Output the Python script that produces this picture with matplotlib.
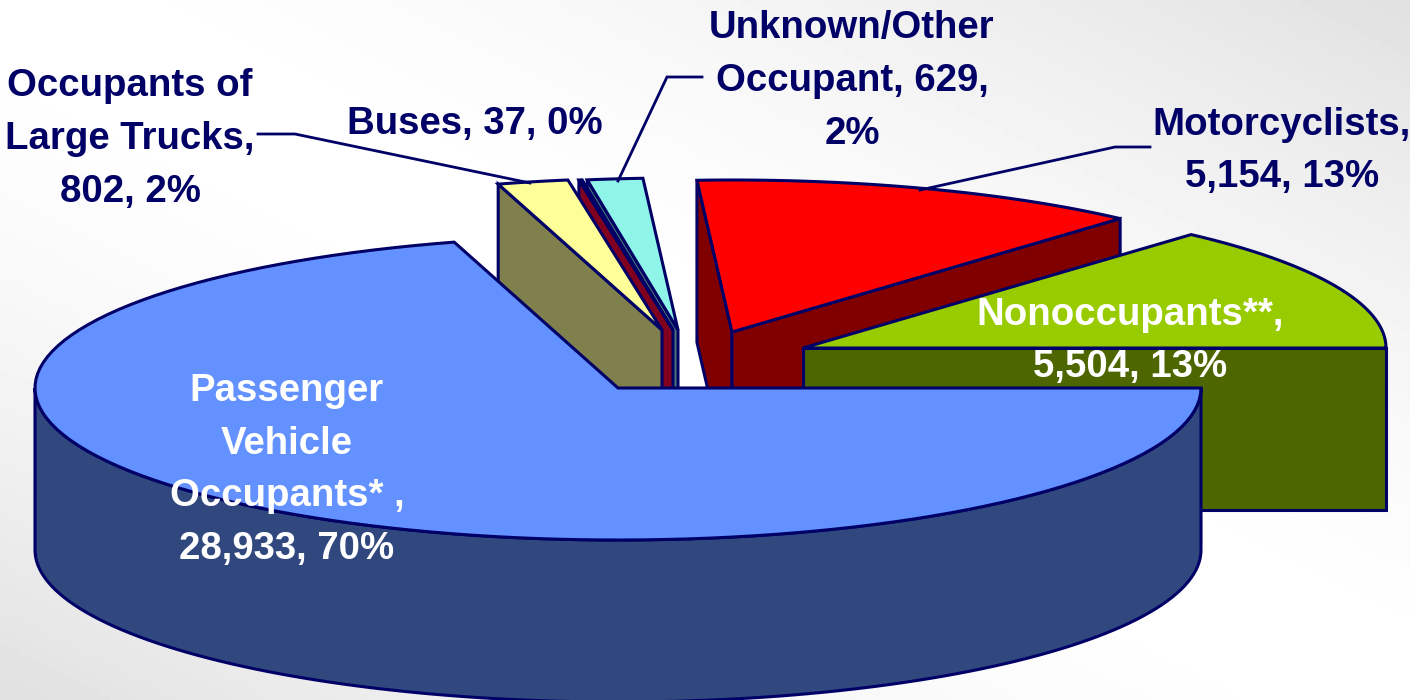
import numpy as np
import matplotlib
matplotlib.use("Agg")
import matplotlib.pyplot as plt
from matplotlib.patches import Polygon

# slice order: clockwise from 3 o'clock
names = ["Passenger Vehicle Occupants", "Occupants of Large Trucks", "Buses",
         "Unknown/Other Occupant", "Motorcyclists", "Nonoccupants"]
values = [28933, 802, 37, 629, 5154, 5504]
labels = ["Passenger\nVehicle\nOccupants* ,\n28,933, 70%",
          "Occupants of\nLarge Trucks,\n802, 2%",
          "Buses, 37, 0%",
          "Unknown/Other\nOccupant, 629,\n2%",
          "Motorcyclists,\n5,154, 13%",
          "Nonoccupants**,\n5,504, 13%"]
top_colors = ["#6391FF", "#FFFF99", "#800020", "#90F5E9", "#FF0000", "#99CC00"]
side_colors = ["#31487F", "#80804C", "#800020", "#487A74", "#800000", "#4D6600"]

# layout, in pixels
center = (618, 388)
rx, ry, depth = 583, 152, 162
explode = [(0, 0), (44, -58), (55, -58), (60, -58), (114, -56), (185, -40)]
draw_order = [4, 5, 3, 2, 1, 0]
label_pos = [(287, 470, "white"), (130, 139, "#000066"), (475, 124, "#000066"),
             (852, 81, "#000066"), (1282, 151, "#000066"), (1130, 341, "white")]
leaders = [([258, 295, 530], [134, 134, 183]),
           ([702, 667, 618], [77, 77, 181]),
           ([1150, 1115, 920], [147, 147, 190])]
edge = "#000066"

plt.rcParams["font.family"] = ["Liberation Sans", "DejaVu Sans"]

fig = plt.figure(figsize=(14.1, 7), dpi=100)
ax = fig.add_axes([0, 0, 1, 1])
ax.set_xlim(0, 1410)
ax.set_ylim(700, 0)
ax.axis("off")

# background: white along the main diagonal, grey towards the other two corners
u, v = np.meshgrid(np.linspace(0, 1, 282), np.linspace(0, 1, 140))
shade = 1 - 0.12 * np.abs(u - v) ** 1.6
ax.imshow(shade, cmap="gray", vmin=0, vmax=1, extent=(0, 1410, 700, 0), aspect="auto", zorder=0)


def arc(cx, cy, t0, t1, n=120):
    t = np.radians(np.linspace(t0, t1, n))
    return np.column_stack([cx + rx * np.cos(t), cy - ry * np.sin(t)])


def add_poly(pts, color, z):
    ax.add_patch(Polygon(pts, closed=True, facecolor=color, edgecolor=edge, linewidth=2.2, zorder=z))


angles = np.concatenate([[0], -np.cumsum(values) / np.sum(values) * 360])

z = 1
for i in draw_order:
    t0, t1 = angles[i], angles[i + 1]
    cx, cy = center[0] + explode[i][0], center[1] + explode[i][1]
    apex = np.array([cx, cy])
    down = np.array([0, depth])

    # radial walls, only those facing the viewer
    if np.cos(np.radians(t0)) < 0:
        p = arc(cx, cy, t0, t0, 1)[0]
        add_poly([apex, p, p + down, apex + down], side_colors[i], z)
    if np.cos(np.radians(t1)) > 0:
        p = arc(cx, cy, t1, t1, 1)[0]
        add_poly([apex, p, p + down, apex + down], side_colors[i], z)

    # outer rim, front half only
    lo, hi = max(t1, -180), min(t0, 0)
    if hi > lo:
        rim = arc(cx, cy, hi, lo)
        add_poly(np.vstack([rim, (rim + down)[::-1]]), side_colors[i], z)

    # top face
    add_poly(np.vstack([apex, arc(cx, cy, t0, t1)]), top_colors[i], z)
    z += 1

for xs, ys in leaders:
    ax.plot(xs, ys, color=edge, linewidth=2.0, solid_joinstyle="miter", zorder=z)

for lab, (x, y, col) in zip(labels, label_pos):
    ax.text(x, y, lab, color=col, fontsize=27.6, fontweight="bold", ha="center", va="center",
            linespacing=1.6, zorder=z + 1)

fig.savefig("out.png", dpi=100)
